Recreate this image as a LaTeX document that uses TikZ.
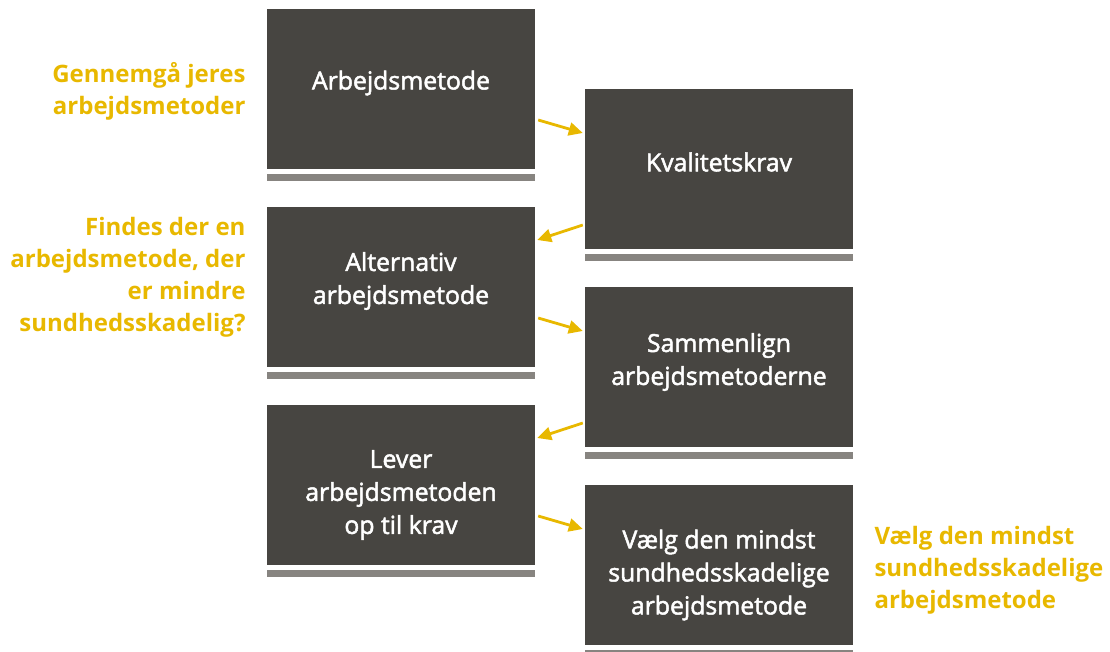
\documentclass[tikz,border=0pt]{standalone}
\usepackage{fontspec}
\setmainfont{Open Sans}
\newfontface\boksfont[FakeBold=2]{Open Sans}
\usetikzlibrary{arrows.meta}

\definecolor{boksgraa}{HTML}{474541}
\definecolor{bjaelke}{HTML}{878480}
\definecolor{gul}{HTML}{E8B800}

\begin{document}
\begin{tikzpicture}[x=1pt, y=-1pt,
  boks/.style={fill=boksgraa, minimum width=268pt, minimum height=160pt, inner sep=0pt},
  bokstekst/.style={text=white, align=center, font=\boksfont\fontsize{24.8}{33}\selectfont},
  spoerg/.style={text=gul, font=\bfseries\fontsize{24}{32}\selectfont},
  pil/.style={-{Triangle[length=14pt, width=13pt]}, gul, line width=2.8pt}]

\useasboundingbox (0,0) rectangle (1110,652);
\clip (0,0) rectangle (1110,652);

% Bokse (venstre og hoejre kolonne)
\node[boks] (arbmetode)  at (401,89)  {};
\node[boks] (kvalkrav)   at (719,169) {};
\node[boks] (altmetode)  at (401,287) {};
\node[boks] (sammenlign) at (719,367) {};
\node[boks] (lever)      at (401,485) {};
\node[boks] (vaelg)      at (719,565) {};

% Graa bjaelke under hver boks
\foreach \b in {arbmetode,kvalkrav,altmetode,sammenlign,lever,vaelg} {
  \fill[bjaelke] ([yshift=-5pt]\b.south west) rectangle ([yshift=-12pt]\b.south east);
}

% Tekst i boksene
\node[bokstekst] (t1) at ([yshift=6pt]arbmetode.center) {Arbejdsmetode};
\node[bokstekst] (t2) at ([yshift=7pt]kvalkrav.center) {Kvalitetskrav};
\node[bokstekst] (t3) at ([yshift=6pt]altmetode.center) {Alternativ\\arbejdsmetode};
\node[bokstekst] (t4) at ([yshift=5pt]sammenlign.center) {Sammenlign\\arbejdsmetoderne};
\node[bokstekst] (t5) at ([yshift=-10pt]lever.center) {Lever\\arbejdsmetoden\\op til krav};
\node[bokstekst] (t6) at ([yshift=-10pt]vaelg.center) {Vælg den mindst\\sundhedsskadelige\\arbejdsmetode};

% Gule spoergsmaal
\node[spoerg, anchor=east, align=right] (s1) at (249,91) {Gennemgå jeres\\arbejdsmetoder};
\node[spoerg, anchor=east, align=right] (s2) at (249,277) {Findes der en\\arbejdsmetode, der\\er mindre\\sundhedsskadelig?};
\node[spoerg, anchor=west, align=left] (s3) at (871,570) {Vælg den mindst\\sundhedsskadelige\\arbejdsmetode};

% Pile mellem boksene
\draw[pil] ([shift={(3,31)}]arbmetode.east) -- ([shift={(-2,-36)}]kvalkrav.west);
\draw[pil] ([shift={(-2,56)}]kvalkrav.west) -- ([shift={(2,-47)}]altmetode.east);
\draw[pil] ([shift={(3,31)}]altmetode.east) -- ([shift={(-2,-36)}]sammenlign.west);
\draw[pil] ([shift={(-2,56)}]sammenlign.west) -- ([shift={(2,-47)}]lever.east);
\draw[pil] ([shift={(3,31)}]lever.east) -- ([shift={(-2,-36)}]vaelg.west);

\end{tikzpicture}
\end{document}
